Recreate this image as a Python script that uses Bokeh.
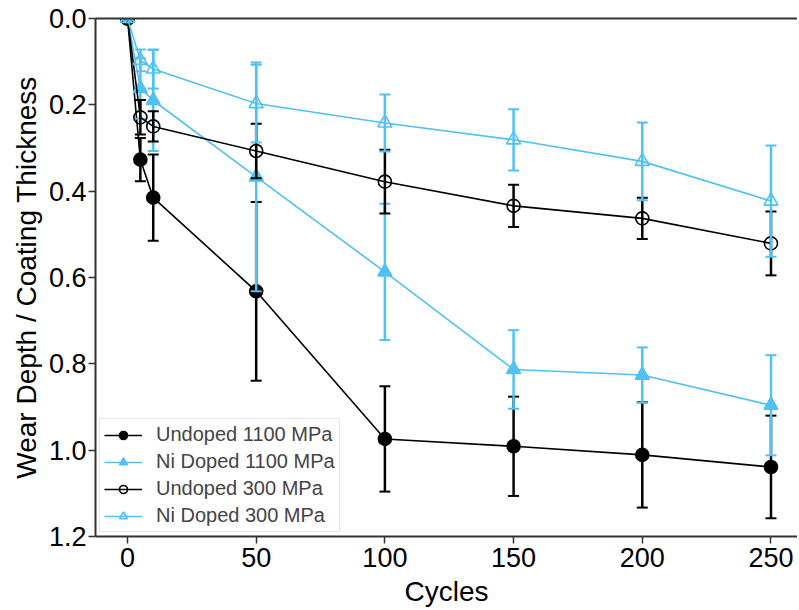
from bokeh.plotting import figure
from bokeh.models import (Range1d, FixedTicker, PrintfTickFormatter, LinearAxis,
                          Legend, LegendItem)
from bokeh.embed import file_html
from bokeh.resources import INLINE

# ---- data ----
cycles = [0, 5, 10, 50, 100, 150, 200, 250]

undoped_1100 = [0, 0.327, 0.415, 0.632, 0.974, 0.991, 1.011, 1.039]
undoped_1100_err = [0, 0.05, 0.10, 0.207, 0.122, 0.115, 0.122, 0.119]

ni_1100 = [0, 0.162, 0.19, 0.367, 0.587, 0.813, 0.826, 0.896]
ni_1100_err = [0, 0.07, 0.117, 0.265, 0.158, 0.091, 0.064, 0.116]

undoped_300 = [0, 0.229, 0.25, 0.307, 0.378, 0.434, 0.463, 0.521]
undoped_300_err = [0, 0.04, 0.035, 0.063, 0.074, 0.049, 0.048, 0.074]

ni_300 = [0, 0.097, 0.117, 0.197, 0.242, 0.281, 0.331, 0.423]
ni_300_err = [0, 0.025, 0.045, 0.09, 0.066, 0.071, 0.09, 0.129]

series_labels = ["Undoped 1100 MPa", "Ni Doped 1100 MPa", "Undoped 300 MPa", "Ni Doped 300 MPa"]
x_ticks = [0, 50, 100, 150, 200, 250]
y_ticks = [0.0, 0.2, 0.4, 0.6, 0.8, 1.0, 1.2]

BLUE = "#4FC1F2"
BLACK = "#000000"
FONT = "Liberation Sans"

p = figure(width=797, height=610, output_backend="svg", toolbar_location=None,
           x_range=Range1d(-12.43, 260.3), y_range=Range1d(1.2, 0.0),
           min_border_left=95, min_border_right=0, min_border_top=18, min_border_bottom=74)
p.outline_line_color = None
p.grid.visible = False
p.background_fill_color = "white"

for ax in (p.xaxis[0], p.yaxis[0]):
    ax.axis_line_color = "#333333"
    ax.axis_line_width = 2
    ax.major_tick_line_color = "#333333"
    ax.major_tick_line_width = 1.5
    ax.major_tick_out = 7
    ax.major_tick_in = 0
    ax.minor_tick_line_color = None
    ax.major_label_text_font = FONT
    ax.major_label_text_font_size = "27px"
    ax.major_label_text_color = "black"
    ax.axis_label_text_font = FONT
    ax.axis_label_text_font_size = "28px"
    ax.axis_label_text_font_style = "normal"
    ax.axis_label_text_color = "black"

p.xaxis.ticker = FixedTicker(ticks=x_ticks)
p.yaxis.ticker = FixedTicker(ticks=y_ticks)
p.yaxis.formatter = PrintfTickFormatter(format="%.1f")
p.xaxis.axis_label = "Cycles"
p.yaxis.axis_label = "Wear Depth / Coating Thickness"
p.xaxis.major_label_standoff = 4
p.xaxis.axis_label_standoff = 6
p.yaxis.major_label_standoff = 2
p.yaxis.axis_label_standoff = 4

# top spine
top = LinearAxis(ticker=FixedTicker(ticks=[]), major_label_text_font_size="0px",
                 axis_line_color="#333333", axis_line_width=2,
                 major_tick_line_color=None, minor_tick_line_color=None,
                 major_label_standoff=0)
p.add_layout(top, "above")

def draw(vals, errs, color, marker, filled, label):
    lo = [v - e for v, e in zip(vals, errs)]
    hi = [v + e for v, e in zip(vals, errs)]
    ln = p.line(cycles, vals, line_color=color, line_width=1.6)
    sc = p.scatter(cycles, vals, marker=marker, size=13 if marker == "circle" else 14,
                   line_color=color, line_width=1.6,
                   fill_color=color if filled else None)
    p.segment(cycles, lo, cycles, hi, line_color=color, line_width=2.5)
    p.scatter(cycles, lo, marker="dash", size=11, line_color=color, line_width=2)
    p.scatter(cycles, hi, marker="dash", size=11, line_color=color, line_width=2)
    return LegendItem(label=label, renderers=[ln, sc])

items = [
    draw(undoped_1100, undoped_1100_err, BLACK, "circle", True, series_labels[0]),
    draw(ni_1100, ni_1100_err, BLUE, "triangle", True, series_labels[1]),
    draw(undoped_300, undoped_300_err, BLACK, "circle", False, series_labels[2]),
    draw(ni_300, ni_300_err, BLUE, "triangle", False, series_labels[3]),
]

legend = Legend(items=items, location="bottom_left", margin=4,
                label_text_font=FONT, label_text_font_size="20px",
                glyph_width=38, glyph_height=20, label_standoff=14,
                spacing=4, padding=4,
                border_line_color="#cccccc", border_line_width=1.5,
                background_fill_alpha=0.85)
p.add_layout(legend, "center")

open("out.html", "w").write(file_html(p, INLINE))
